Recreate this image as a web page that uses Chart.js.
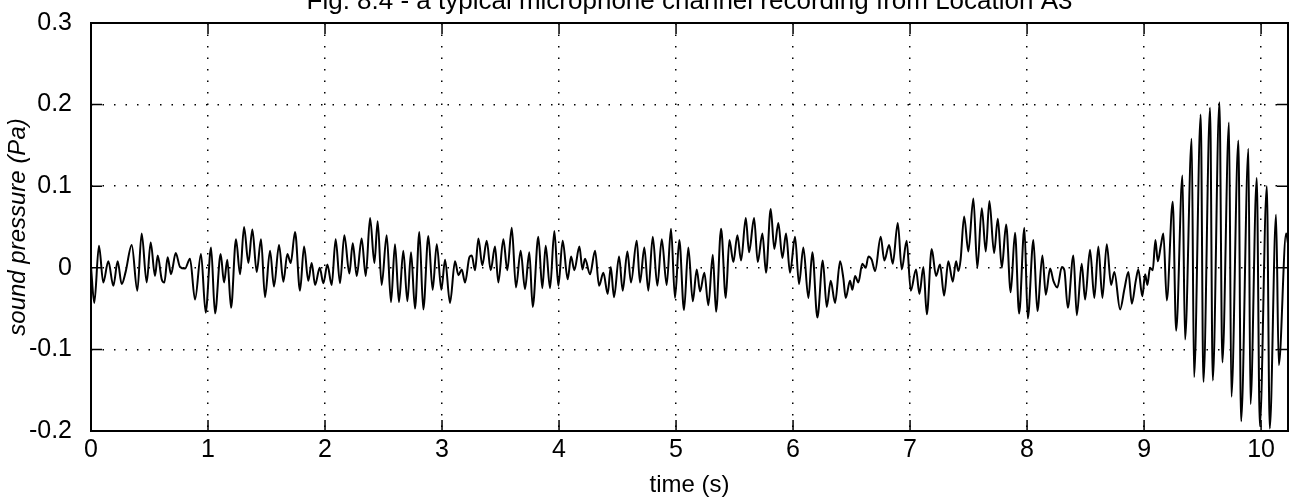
<!DOCTYPE html>
<html>
<head>
<meta charset="utf-8">
<title>Fig. 8.4 - microphone channel recording</title>
<script src="https://cdn.jsdelivr.net/npm/chart.js@4.4.1/dist/chart.umd.min.js"></script>
<style>
    html, body { margin: 0; padding: 0; background: #fff; }
    #wrap { width: 1299px; height: 500px; }
</style>
</head>
<body>
<div id="wrap"><canvas id="micChart" width="1299" height="500"></canvas></div>
<script>
// time (s) of each turning point
const times = [
    0.000, 0.028, 0.068, 0.105, 0.148, 0.191, 0.228, 0.262, 0.296, 0.348, 0.396, 0.433, 0.476, 0.510,
    0.547, 0.570, 0.604, 0.627, 0.655, 0.684, 0.724, 0.761, 0.803, 0.846, 0.889, 0.940, 0.980,
    1.026, 1.060, 1.108, 1.137, 1.165, 1.197, 1.239, 1.274, 1.308, 1.345, 1.379, 1.416, 1.453, 1.487,
    1.530, 1.564, 1.607, 1.644, 1.678, 1.707, 1.744, 1.786, 1.821, 1.857, 1.886, 1.915, 1.955, 1.986,
    2.020, 2.057, 2.091, 2.128, 2.165, 2.208, 2.237, 2.271, 2.313, 2.348, 2.385, 2.422, 2.450, 2.484,
    2.527, 2.564, 2.598, 2.632, 2.669, 2.704, 2.735, 2.769, 2.806, 2.840, 2.883, 2.920, 2.955, 2.994,
    3.026, 3.068, 3.111, 3.140, 3.168, 3.197, 3.234, 3.254, 3.282, 3.311, 3.344, 3.382, 3.416, 3.453,
    3.481, 3.524, 3.558, 3.596, 3.632, 3.672, 3.709, 3.746, 3.775, 3.823, 3.857, 3.886, 3.923, 3.960, 3.994,
    4.031, 4.074, 4.103, 4.131, 4.174, 4.200, 4.222, 4.265, 4.308, 4.342, 4.379, 4.416, 4.442, 4.470,
    4.513, 4.544, 4.584, 4.615, 4.664, 4.692, 4.729, 4.763, 4.801, 4.840, 4.878, 4.920, 4.957, 4.991,
    5.028, 5.068, 5.105, 5.143, 5.177, 5.205, 5.242, 5.276, 5.314, 5.342, 5.385, 5.425, 5.456, 5.490,
    5.524, 5.556, 5.596, 5.624, 5.667, 5.698, 5.738, 5.769, 5.809, 5.840, 5.874, 5.909, 5.940, 5.974,
    6.017, 6.051, 6.088, 6.131, 6.165, 6.208, 6.254, 6.288, 6.322, 6.359, 6.402, 6.430, 6.450, 6.487,
    6.507, 6.530, 6.558, 6.592, 6.621, 6.644, 6.672, 6.701, 6.749, 6.780, 6.821, 6.852, 6.895, 6.929, 6.971,
    7.006, 7.051, 7.080, 7.114, 7.143, 7.185, 7.222, 7.256, 7.291, 7.327, 7.365, 7.393, 7.413, 7.432,
    7.462, 7.498, 7.541, 7.575, 7.613, 7.647, 7.678, 7.718, 7.750, 7.784, 7.821, 7.860, 7.897, 7.932, 7.977,
    8.006, 8.054, 8.088, 8.131, 8.160, 8.197, 8.225, 8.259, 8.297, 8.319, 8.348, 8.396, 8.425, 8.467,
    8.496, 8.538, 8.575, 8.609, 8.644, 8.681, 8.718, 8.746, 8.795, 8.832, 8.866, 8.895, 8.929, 8.951, 8.985,
    9.009, 9.028, 9.051, 9.074, 9.097, 9.117, 9.143, 9.165, 9.194, 9.245, 9.274, 9.328, 9.350, 9.407,
    9.427, 9.484, 9.507, 9.564, 9.587, 9.644, 9.669, 9.726, 9.746, 9.806, 9.829, 9.892, 9.909, 9.963,
    9.989, 10.049, 10.074, 10.128, 10.151, 10.214, 10.230
];

// sound pressure (Pa) at each of those times
const pressures = [
    0.001, -0.043, 0.027, -0.018, 0.008, -0.022, 0.008, -0.020, -0.005, 0.028, -0.028, 0.042, -0.018, 0.031,
    -0.010, 0.015, -0.014, -0.018, 0.013, -0.008, 0.018, 0.001, -0.001, 0.011, -0.039, 0.017, -0.055,
    0.025, -0.056, 0.017, -0.018, 0.010, -0.049, 0.035, -0.008, 0.050, 0.006, 0.047, -0.005, 0.035, -0.036,
    0.021, -0.023, 0.028, -0.017, 0.017, 0.006, 0.044, -0.028, 0.026, -0.016, 0.006, -0.021, 0.000, -0.019,
    0.004, -0.021, 0.035, -0.019, 0.040, -0.007, 0.030, -0.010, 0.036, -0.010, 0.061, 0.006, 0.057, -0.021,
    0.040, -0.042, 0.029, -0.042, 0.021, -0.041, 0.019, -0.050, 0.044, -0.051, 0.039, -0.027, 0.029, -0.027,
    0.010, -0.043, 0.008, -0.009, -0.002, -0.018, 0.013, 0.015, -0.003, 0.036, 0.003, 0.033, -0.003, 0.026,
    -0.018, 0.035, -0.003, 0.049, -0.024, 0.021, -0.026, 0.019, -0.048, 0.038, -0.025, 0.027, -0.025, 0.045, -0.022,
    0.033, -0.014, 0.014, -0.003, 0.026, -0.002, 0.011, -0.008, 0.021, -0.022, -0.006, -0.032, 0.001, -0.036,
    0.014, -0.028, 0.020, -0.018, 0.033, -0.018, 0.025, -0.028, 0.038, -0.022, 0.035, -0.021, 0.048, -0.037,
    0.034, -0.052, 0.025, -0.041, -0.002, -0.029, -0.006, -0.046, 0.016, -0.054, 0.048, -0.037, 0.034, 0.007,
    0.040, 0.009, 0.061, 0.019, 0.061, 0.007, 0.042, -0.006, 0.072, 0.023, 0.055, 0.012, 0.042, -0.006,
    0.038, -0.020, 0.025, -0.037, 0.019, -0.061, 0.009, -0.048, -0.016, -0.043, 0.008, -0.013, -0.037, -0.016,
    -0.027, -0.010, -0.018, 0.005, 0.000, 0.014, 0.010, -0.004, 0.038, 0.009, 0.028, 0.005, 0.055, -0.002, 0.033,
    -0.028, -0.002, -0.032, 0.001, -0.057, 0.023, -0.010, 0.004, -0.034, 0.008, -0.017, 0.008, -0.004, 0.010,
    0.063, 0.020, 0.085, 0.000, 0.073, 0.020, 0.082, 0.018, 0.060, 0.000, 0.053, -0.030, 0.043, -0.056, 0.049,
    -0.062, 0.034, -0.053, 0.015, -0.033, -0.001, -0.016, -0.024, 0.001, -0.003, -0.049, 0.015, -0.058, 0.005,
    -0.039, 0.022, -0.037, 0.026, -0.037, 0.029, -0.021, -0.005, -0.051, -0.026, -0.005, -0.044, -0.016, -0.002, -0.035,
    -0.008, -0.021, 0.000, -0.003, 0.034, 0.008, 0.027, 0.042, -0.040, 0.081, -0.077, 0.113, -0.088, 0.158,
    -0.134, 0.188, -0.140, 0.196, -0.138, 0.203, -0.116, 0.178, -0.158, 0.156, -0.188, 0.146, -0.167, 0.110,
    -0.194, 0.100, -0.197, 0.065, -0.119, 0.042, 0.030
];

const xTickStep = 1;      // seconds
const yTickStep = 0.1;    // Pa
const xRange = [0, 10.23];
const yRange = [-0.2, 0.3];

const chartTitle = 'Fig. 8.4 - a typical microphone channel recording from Location A3';
const fontFamily = "'Liberation Sans', Arial, Helvetica, sans-serif";

// MATLAB style box round the axes, with the tick marks pointing in
const framePlugin = {
    id: 'frame',
    afterDatasetsDraw(chart) {
        const { ctx, chartArea: a, scales: { x, y } } = chart;
        const len = 11;
        ctx.save();
        ctx.strokeStyle = '#000';
        ctx.lineWidth = 2;
        ctx.strokeRect(a.left, a.top, a.right - a.left, a.bottom - a.top);
        ctx.lineWidth = 1.5;
        ctx.beginPath();
        x.ticks.forEach(t => {
            const px = x.getPixelForValue(t.value);
            ctx.moveTo(px, a.bottom); ctx.lineTo(px, a.bottom - len);
            ctx.moveTo(px, a.top); ctx.lineTo(px, a.top + len);
        });
        y.ticks.forEach(t => {
            const py = y.getPixelForValue(t.value);
            ctx.moveTo(a.left, py); ctx.lineTo(a.left + len, py);
            ctx.moveTo(a.right, py); ctx.lineTo(a.right - len, py);
        });
        ctx.stroke();
        ctx.restore();
    }
};

// the title sits above the axes and is cut by the top of the page, as in the scan
const topTitlePlugin = {
    id: 'topTitle',
    afterDraw(chart) {
        const { ctx, chartArea: a } = chart;
        ctx.save();
        ctx.fillStyle = '#000';
        ctx.font = `26px ${fontFamily}`;
        ctx.textAlign = 'center';
        ctx.textBaseline = 'alphabetic';
        ctx.fillText(chartTitle, (a.left + a.right) / 2, 9);
        ctx.restore();
    }
};

const samples = times.map((t, i) => ({ x: t, y: pressures[i] }));

const ctx = document.getElementById('micChart').getContext('2d');
new Chart(ctx, {
    type: 'line',
    data: {
        datasets: [{
            label: 'sound pressure',
            data: samples,
            borderColor: '#000',
            borderWidth: 2,
            pointRadius: 0,
            cubicInterpolationMode: 'monotone',
            fill: false
        }]
    },
    options: {
        responsive: false,
        animation: false,
        devicePixelRatio: 1,
        layout: { padding: { left: 0, right: 11, top: 23, bottom: 0 } },
        plugins: {
            legend: { display: false },
            tooltip: { enabled: false },
            title: { display: false }
        },
        scales: {
            x: {
                type: 'linear',
                min: xRange[0],
                max: xRange[1],
                afterFit: scale => { scale.height = 69; },
                ticks: {
                    stepSize: xTickStep,
                    includeBounds: false,
                    autoSkip: false,
                    maxRotation: 0,
                    padding: 4,
                    color: '#000',
                    font: { family: fontFamily, size: 25 }
                },
                grid: { color: '#000', lineWidth: 1.5, drawTicks: false },
                border: { display: false, dash: [1.5, 10] },
                title: {
                    display: true,
                    text: 'time (s)',
                    color: '#000',
                    font: { family: fontFamily, size: 24 },
                    padding: { top: 0, bottom: 0 }
                }
            },
            y: {
                min: yRange[0],
                max: yRange[1],
                afterFit: scale => {
                    scale.width = 91;
                    // let the end labels hang over the box edge instead of shrinking it
                    scale.paddingTop = 0;
                    scale.paddingBottom = 0;
                },
                ticks: {
                    stepSize: yTickStep,
                    padding: 19,
                    color: '#000',
                    font: { family: fontFamily, size: 25 }
                },
                grid: { color: '#000', lineWidth: 1.5, drawTicks: false },
                border: { display: false, dash: [1.5, 10] },
                title: {
                    display: true,
                    text: 'sound pressure (Pa)',
                    color: '#000',
                    font: { family: fontFamily, size: 24, style: 'italic' },
                    padding: { top: 4, bottom: 0 }
                }
            }
        }
    },
    plugins: [framePlugin, topTitlePlugin]
});
</script>
</body>
</html>
